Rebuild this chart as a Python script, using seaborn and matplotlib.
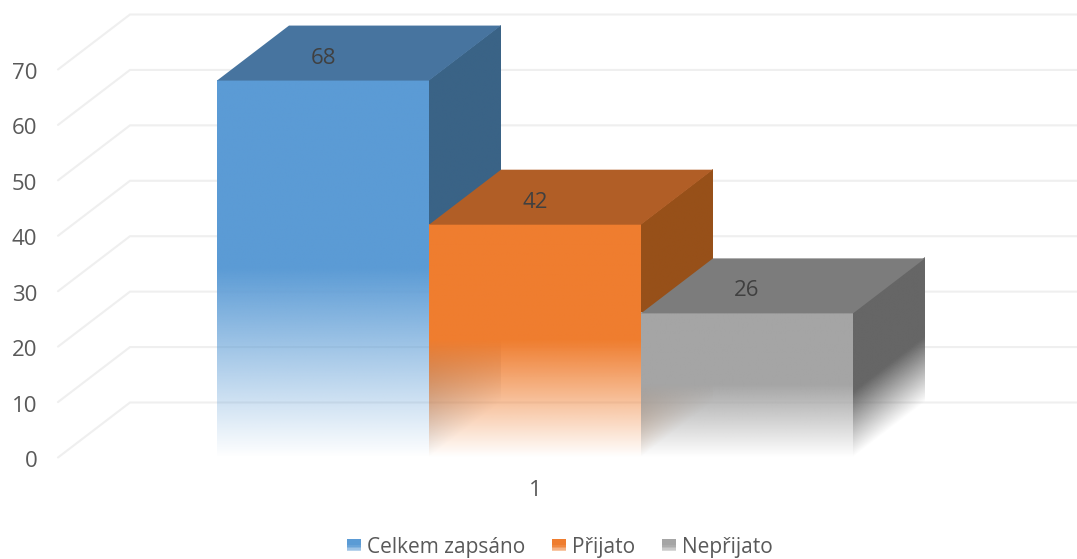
import numpy as np
import pandas as pd
import matplotlib
matplotlib.use("Agg")
import matplotlib.pyplot as plt
from matplotlib.patches import Polygon, Patch, Rectangle
from matplotlib.legend_handler import HandlerBase
from matplotlib.colors import to_rgb
from matplotlib.transforms import Affine2D, ScaledTranslation
import seaborn as sns

categories = ["1", "1", "1"]
series = ["Celkem zapsáno", "Přijato", "Nepřijato"]
values = [68, 42, 26]
y_ticks = [0, 10, 20, 30, 40, 50, 60, 70]
front_colors = ["#5B9BD5", "#EF7D2F", "#A5A5A5"]
top_colors = ["#47749F", "#B15E26", "#7C7C7C"]
side_colors = ["#3A6386", "#975019", "#666666"]

sns.set_theme(style="white")
plt.rcParams["font.family"] = ["Open Sans", "DejaVu Sans"]
TEXT = "#595959"
FS = 15
FS_NUM = 16

W, H = 1077, 559
PX_PER_UNIT = 5.543
BASE_PX = 457.5
fig = plt.figure(figsize=(W / 100, H / 100), dpi=100, facecolor="white")
ax = fig.add_axes([58 / W, (H - BASE_PX) / H, (W - 58) / W, BASE_PX / H])

df = pd.DataFrame({"kategorie": categories, "serie": series, "hodnota": values})
sns.barplot(data=df, x="kategorie", y="hodnota", hue="serie", hue_order=series,
            palette=front_colors, width=1, gap=0, dodge=True, legend=False,
            saturation=1, ax=ax, errorbar=None)

XLIM = ((58 - 535) / 636, (W - 535) / 636)
YLIM = (0, BASE_PX / PX_PER_UNIT)
DX, DY = 72 / 636, 55 / PX_PER_UNIT

# skew depth gridlines
for t in y_ticks:
    ax.plot([XLIM[0], XLIM[0] + DX, XLIM[1]], [t, t + DY, t + DY],
            color="#EFEFEF", lw=1.5, zorder=1, clip_on=False,
            solid_joinstyle="miter")


def fade_face(x0, x1, h, shear, color, stop, zorder, n=256):
    """Vertical gradient: opaque above stop*h, transparent at the (sheared) base."""
    t = (np.arange(n) + 0.5) / n
    rgba = np.zeros((n, 2, 4))
    rgba[..., :3] = to_rgb(color)
    rgba[..., 3] = np.clip(t / stop, 0, 1)[:, None]
    tr = Affine2D(np.array([[x1 - x0, 0, x0], [shear, h, 0], [0, 0, 1.0]])) + ax.transData
    ax.imshow(rgba, origin="lower", extent=(0, 1, 0, 1), aspect="auto",
              interpolation="bilinear", transform=tr, zorder=zorder)


bars = list(ax.patches)
for i, bar in enumerate(bars):
    x0, x1 = bar.get_x(), bar.get_x() + bar.get_width()
    h = bar.get_height()
    z = 2 + i * 3
    fade_face(x1, x1 + DX, h, DY, side_colors[i], 0.45, z)
    fade_face(x0, x1, h, 0, front_colors[i], 0.5, z + 1)
    ax.add_patch(Polygon([(x0, h), (x1, h), (x1 + DX, h + DY), (x0 + DX, h + DY)],
                         closed=True, facecolor=top_colors[i], edgecolor="none", zorder=z + 2))
    bar.set_facecolor((0, 0, 0, 0))
    bar.set_edgecolor("none")
    ax.text((x0 + x1) / 2, h + DY * 0.5 - 0.9, str(int(h)), ha="center", va="center",
            fontsize=FS_NUM, color="#404040", zorder=20)

ax.set_xlim(*XLIM)
ax.set_ylim(*YLIM)
ax.set_xlabel("")
ax.set_ylabel("")
ax.set_yticks(y_ticks)
ax.tick_params(axis="y", length=0, pad=15, labelsize=FS_NUM, labelcolor=TEXT)
ax.tick_params(axis="x", length=0, pad=16.5, labelsize=FS_NUM, labelcolor=TEXT)
down = ScaledTranslation(0, -1.5 / 100, fig.dpi_scale_trans)
for lab in ax.get_yticklabels():
    lab.set_transform(lab.get_transform() + down)
for s in ax.spines.values():
    s.set_visible(False)
ax.patch.set_alpha(0)


class GradientSwatch(HandlerBase):
    def create_artists(self, legend, orig, xd, yd, width, height, fontsize, trans):
        out = []
        n = 8
        for k in range(n):
            frac = (k + 0.5) / n
            a = np.clip(0.35 + frac / 0.5 * 0.65, 0, 1)
            out.append(Rectangle((-xd, -yd + height * k / n), width, height / n,
                                 facecolor=orig.get_facecolor()[:3], alpha=a,
                                 edgecolor="none", transform=trans))
        return out


handles = [Patch(facecolor=c, label=s) for c, s in zip(front_colors, series)]
leg = fig.legend(handles=handles, loc="center", bbox_to_anchor=(560 / W, (H - 547) / H),
                 ncol=3, frameon=False, fontsize=FS, labelcolor=TEXT,
                 handlelength=0.67, handleheight=0.53, handletextpad=0.29,
                 columnspacing=1.3, borderpad=0,
                 handler_map={Patch: GradientSwatch()})

fig.savefig("out.png", dpi=100)
